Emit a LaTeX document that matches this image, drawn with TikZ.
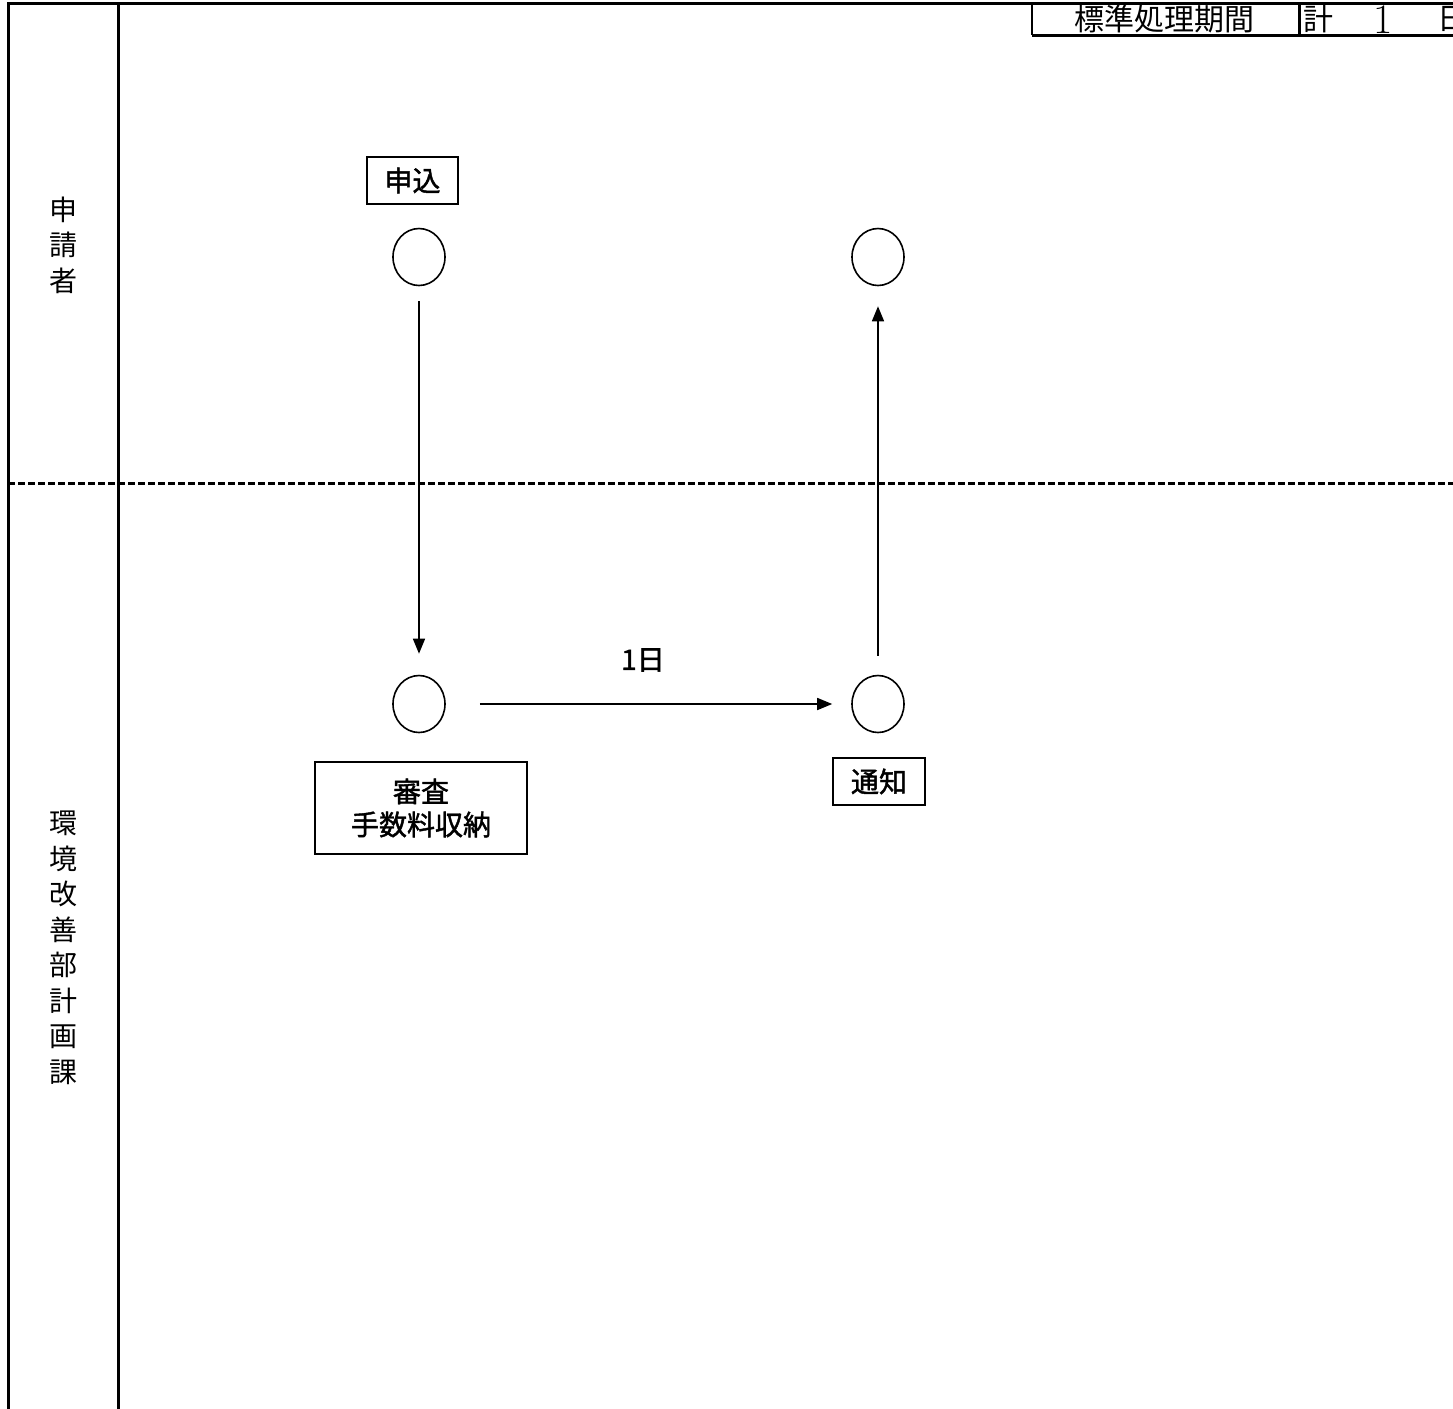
\documentclass[tikz,border=0pt]{standalone}
\usepackage{fontspec}
\newfontfamily\jpfont{Noto Sans CJK JP}
\newfontfamily\jpboxfont[FakeBold=1.5]{Noto Sans CJK JP}
\usetikzlibrary{shapes.geometric,arrows.meta}
\tikzset{>={Triangle[length=7.5pt,width=6pt]}}

\begin{document}
\begin{tikzpicture}[x=0.5pt,y=-0.5pt,
    frame/.style={line width=1.5pt},
    header/.style={font=\jpfont\fontsize{15}{18}\selectfont,inner sep=0pt},
    lanetext/.style={font=\jpfont\fontsize{14}{17.75}\selectfont,align=center,inner sep=0pt},
    event/.style={ellipse,draw,line width=0.8pt,minimum width=26pt,minimum height=28.5pt,inner sep=0pt},
    stepbox/.style={draw,line width=0.9pt,font=\jpboxfont\fontsize{14}{16.5}\selectfont,align=center,inner sep=0pt},
    flow/.style={->,line width=0.8pt}]
        \useasboundingbox (0,0) rectangle (1453,1409);

        % Frame and lanes
        \draw[frame] (8,1409) -- (8,3) -- (1453,3);
        \draw[frame] (118,3) -- (118,1409);
        \draw[frame,dash pattern=on 3.5pt off 1.5pt] (8,483) -- (1453,483);

        % Header
        \draw[line width=1pt] (1032,3) -- (1032,35);
        \draw[frame] (1032,35) -- (1453,35);
        \draw[frame] (1299,3) -- (1299,35);
        \node[header] at (1164,19)   (period) {標準処理期間};
        \node[header] at (1318,19)   (total) {計};
        \node[header] at (1383,20)   (count) {\rmfamily\fontsize{21}{21}\selectfont 1};
        \node[header] at (1452,19)   (unit) {日};

        % Lane labels
        \node[lanetext] at (63,245)   (applicant) {申\\請\\者};
        \node[lanetext] at (63,948)   (office) {環\\境\\改\\善\\部\\計\\画\\課};

        % Events
        \node[event] at (419,257)   (apply) {};
        \node[event] at (878,257)   (receive) {};
        \node[event] at (419,704)   (review) {};
        \node[event] at (878,704)   (notify) {};

        % Boxes
        \node[stepbox,minimum width=45.5pt,minimum height=23.5pt] at (412.5,180.5)   (applybox) {申込};
        \node[stepbox,minimum width=106pt,minimum height=46pt] at (421,808)   (reviewbox) {審査\\手数料収納};
        \node[stepbox,minimum width=46pt,minimum height=23.5pt] at (879,781.5)   (notifybox) {通知};

        % Flow
        \draw[flow,shorten <=7.5pt,shorten >=10.5pt] (apply) -- (review);
        \draw[flow,shorten <=17pt,shorten >=9.5pt] (review) -- (notify);
        \draw[flow,shorten <=9.5pt,shorten >=10pt] (notify) -- (receive);
        \node[font=\jpboxfont\fontsize{14}{16.5}\selectfont] at (643,660)   (days) {1日};

      \end{tikzpicture}
\end{document}
